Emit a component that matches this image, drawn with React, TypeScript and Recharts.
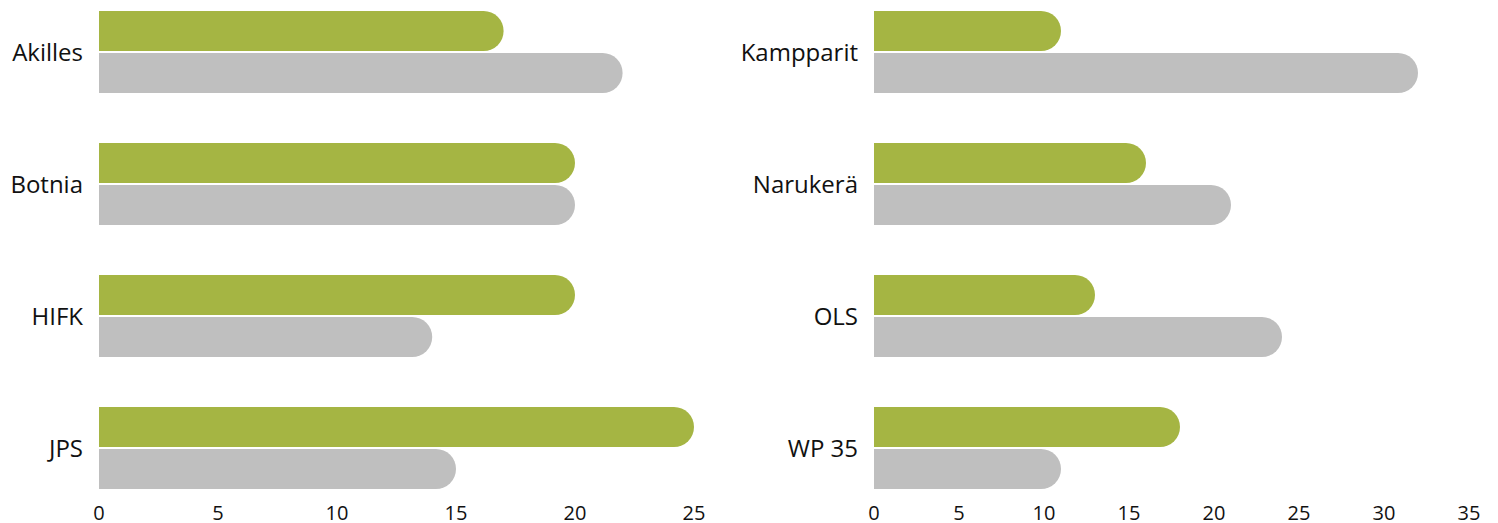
import React from 'react';
import { BarChart, Bar, XAxis, YAxis } from 'recharts';

const leftCategories = ['Akilles', 'Botnia', 'HIFK', 'JPS'];
const leftGreen = [17, 20, 20, 25];
const leftGray = [22, 20, 14, 15];
const leftTicks = [0, 5, 10, 15, 20, 25];

const rightCategories = ['Kampparit', 'Narukerä', 'OLS', 'WP 35'];
const rightGreen = [11, 16, 13, 18];
const rightGray = [32, 21, 24, 11];
const rightTicks = [0, 5, 10, 15, 20, 25, 30, 35];

const GREEN = '#A5B543';
const GRAY = '#BFBFBF';
const FONT = '"Open Sans", sans-serif';

type PanelProps = {
  categories: string[];
  green: number[];
  gray: number[];
  ticks: number[];
  yWidth: number;
  width: number;
  marginRight: number;
};

function Panel({ categories, green, gray, ticks, yWidth, width, marginRight }: PanelProps) {
  const data = categories.map((c, i) => ({ name: c, green: green[i], gray: gray[i] }));
  const max = ticks[ticks.length - 1];
  return (
    <BarChart
      layout="vertical"
      width={width}
      height={523}
      data={data}
      margin={{ top: -14, right: marginRight, bottom: -11, left: 0 }}
      barSize={40}
      barGap={2}
    >
      <XAxis
        type="number"
        domain={[0, max]}
        ticks={ticks}
        interval={0}
        axisLine={false}
        tickLine={false}
        tickSize={0}
        tickMargin={0}
        height={20}
        tick={{ fill: '#111', fontSize: 20, fontFamily: FONT, dy: -8 }}
      />
      <YAxis
        type="category"
        dataKey="name"
        width={yWidth}
        axisLine={false}
        tickLine={false}
        tickSize={0}
        tickMargin={16}
        interval={0}
        tick={{ fill: '#111', fontSize: 24, fontFamily: FONT }}
      />
      <Bar dataKey="green" fill={GREEN} radius={[0, 20, 20, 0]} isAnimationActive={false} />
      <Bar dataKey="gray" fill={GRAY} radius={[0, 20, 20, 0]} isAnimationActive={false} />
    </BarChart>
  );
}

export default function App() {
  return (
    <div style={{ position: 'absolute', left: 0, top: 0, width: 1498, height: 523, background: '#fff' }}>
      <div style={{ position: 'absolute', left: 0, top: 0 }}>
        <Panel
          categories={leftCategories}
          green={leftGreen}
          gray={leftGray}
          ticks={leftTicks}
          yWidth={99}
          width={749}
          marginRight={55}
        />
      </div>
      <div style={{ position: 'absolute', left: 679, top: 0 }}>
        <Panel
          categories={rightCategories}
          green={rightGreen}
          gray={rightGray}
          ticks={rightTicks}
          yWidth={195}
          width={819}
          marginRight={29}
        />
      </div>
    </div>
  );
}
